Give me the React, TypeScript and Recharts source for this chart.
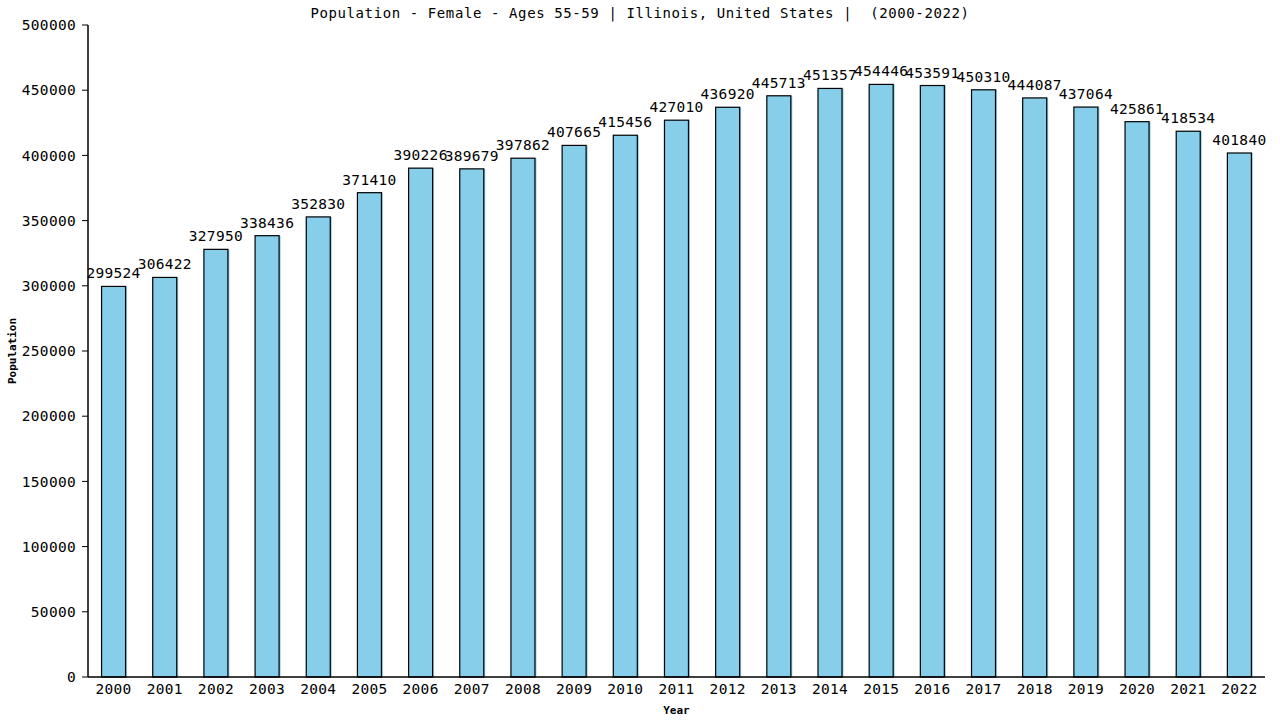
import { Bar, BarChart, LabelList, XAxis, YAxis } from "recharts";

const years = [
  "2000", "2001", "2002", "2003", "2004", "2005", "2006", "2007", "2008", "2009", "2010", "2011",
  "2012", "2013", "2014", "2015", "2016", "2017", "2018", "2019", "2020", "2021", "2022",
];
const population = [
  299524, 306422, 327950, 338436, 352830, 371410, 390226, 389679, 397862, 407665, 415456, 427010,
  436920, 445713, 451357, 454446, 453591, 450310, 444087, 437064, 425861, 418534, 401840,
];
const yTicks = [0, 50000, 100000, 150000, 200000, 250000, 300000, 350000, 400000, 450000, 500000];

const data = years.map((year, i) => ({ year, value: population[i] }));

const mono = "'DejaVu Sans Mono', monospace";
const textStyle = { fontFamily: mono, fontSize: 14.5, letterSpacing: 0.3, fill: "#000" };

// bar with a black outline and a thin lighter edge on the right
function OutlinedBar(props: any) {
  const { x, y, width, height } = props;
  if (height <= 0) return null;
  return (
    <g>
      <rect x={x} y={y} width={width + 1.5} height={height} fill="#87CEEB" />
      <rect x={x} y={y} width={width} height={height} fill="#87CEEB" stroke="#000" strokeWidth={1.2} />
    </g>
  );
}

export default function App() {
  return (
    <div style={{ position: "absolute", left: 0, top: 0, width: 1280, height: 720, background: "#fff" }}>
      <div
        style={{
          position: "absolute",
          top: 5,
          left: 0,
          width: 1280,
          textAlign: "center",
          fontFamily: mono,
          fontSize: 14,
          letterSpacing: 0.6,
          whiteSpace: "pre",
        }}
      >
        Population - Female - Ages 55-59 | Illinois, United States |  (2000-2022)
      </div>
      <BarChart
        width={1280}
        height={720}
        data={data}
        margin={{ top: 25, right: 15, bottom: 0, left: 0 }}
        barCategoryGap="26.5%"
      >
        <XAxis
          dataKey="year"
          height={43}
          tickLine={false}
          axisLine={{ stroke: "#000", strokeWidth: 1.5 }}
          tick={textStyle}
          tickMargin={1}
          interval={0}
          label={{
            value: "Year",
            position: "insideBottom",
            offset: 6,
            style: { fontFamily: mono, fontSize: 11, fontWeight: "bold", fill: "#000" },
          }}
        />
        <YAxis
          yAxisId="left"
          width={88}
          domain={[0, 500000]}
          ticks={yTicks}
          interval={0}
          tickSize={6}
          tickMargin={6}
          tickLine={{ stroke: "#000" }}
          axisLine={{ stroke: "#000", strokeWidth: 1.5 }}
          tick={textStyle}
          label={{
            value: "Population",
            angle: -90,
            position: "center",
            dx: -32,
            style: { fontFamily: mono, fontSize: 11, fontWeight: "bold", fill: "#000" },
          }}
        />
        <YAxis
          yAxisId="right"
          orientation="right"
          width={0}
          domain={[0, 500000]}
          tick={false}
          tickLine={false}
          axisLine={{ stroke: "#000", strokeWidth: 1.5 }}
        />
        <Bar yAxisId="left" dataKey="value" shape={OutlinedBar} isAnimationActive={false}>
          <LabelList dataKey="value" position="top" offset={8} style={textStyle} />
        </Bar>
      </BarChart>
    </div>
  );
}
